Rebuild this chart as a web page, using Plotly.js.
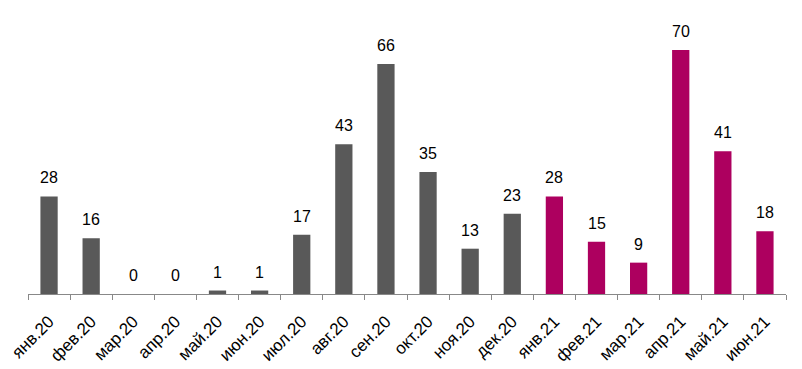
<!DOCTYPE html>
<html>
<head>
<meta charset="utf-8">
<script src="https://cdn.plot.ly/plotly-3.0.1.min.js"></script>
<style>html,body{margin:0;padding:0;background:#fff;}#chart{width:802px;height:369px;}</style>
</head>
<body>
<div id="chart"></div>
<script>
var months2020 = ["янв.20","фев.20","мар.20","апр.20","май.20","июн.20","июл.20","авг.20","сен.20","окт.20","ноя.20","дек.20"];
var values2020 = [28,16,0,0,1,1,17,43,66,35,13,23];
var months2021 = ["янв.21","фев.21","мар.21","апр.21","май.21","июн.21"];
var values2021 = [28,15,9,70,41,18];

var allCats = months2020.concat(months2021);
var allVals = values2020.concat(values2021);
var labelFont = {family: "Liberation Sans, Arial, sans-serif", size: 16, color: "#000"};
var tickFont = {family: "Liberation Sans, Arial, sans-serif", size: 17, color: "#000"};

var traces = [
  {type: "bar", x: months2020, y: values2020, marker: {color: "#595959"},
   width: 0.41, hoverinfo: "x+y"},
  {type: "bar", x: months2021, y: values2021, marker: {color: "#AD005F"},
   width: 0.41, hoverinfo: "x+y"}
];

var annotations = allCats.map(function (c, i) {
  return {x: c, y: allVals[i], xref: "x", yref: "y", text: String(allVals[i]),
          showarrow: false, yanchor: "bottom", yshift: 8, font: labelFont};
});

var layout = {
  width: 802, height: 369,
  margin: {l: 28, r: 16, t: 10, b: 75},
  paper_bgcolor: "#fff", plot_bgcolor: "#fff",
  showlegend: false,
  barmode: "overlay",
  font: labelFont,
  annotations: annotations,
  xaxis: {
    type: "category", categoryorder: "array", categoryarray: allCats,
    showline: true, linecolor: "#888", linewidth: 1,
    ticks: "outside", tickson: "boundaries", ticklen: 5, tickcolor: "#888",
    tickangle: -45, tickfont: tickFont, ticklabelstandoff: 10,
    showgrid: false, zeroline: false
  },
  yaxis: {
    range: [0, 81.5], visible: false, showgrid: false, zeroline: false
  }
};

Plotly.newPlot("chart", traces, layout, {displayModeBar: false, staticPlot: true});
</script>
</body>
</html>
